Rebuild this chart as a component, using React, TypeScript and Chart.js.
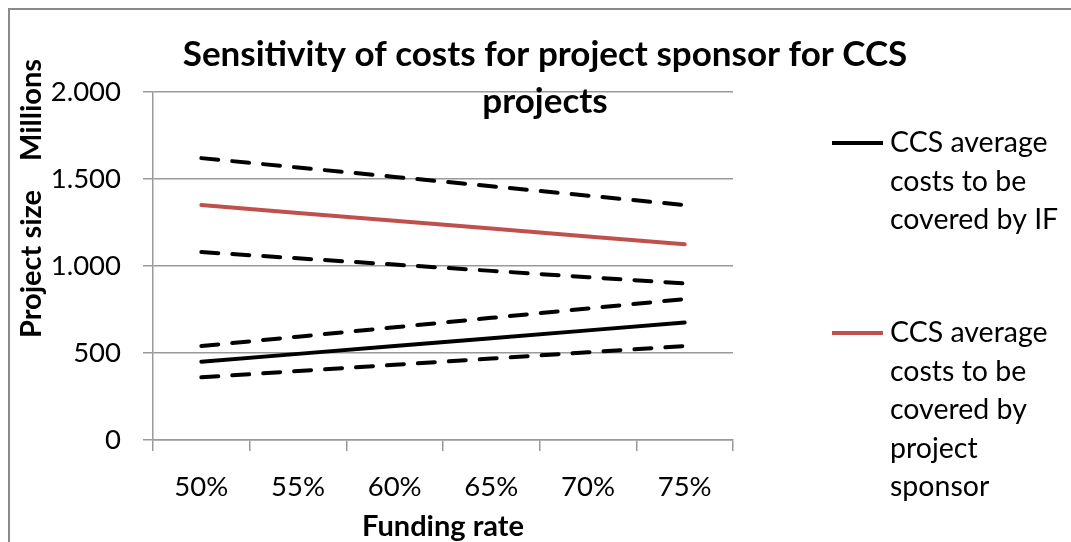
import React, { useEffect, useRef } from "react";
import { Chart, registerables } from "chart.js";

Chart.register(...registerables);

const categories = ["50%", "55%", "60%", "65%", "70%", "75%"];
const ifAvg = [450, 495, 540, 585, 630, 675];
const ifHigh = [540, 594, 648, 702, 756, 810];
const ifLow = [360, 396, 432, 468, 504, 540];
const sponsorAvg = [1350, 1305, 1260, 1215, 1170, 1125];
const sponsorHigh = [1620, 1566, 1512, 1458, 1404, 1350];
const sponsorLow = [1080, 1044, 1008, 972, 936, 900];
const yTickValues = [0, 500, 1000, 1500, 2000];
const yTickLabels = ["0", "500", "1.000", "1.500", "2.000"];
const titleLines = ["Sensitivity of costs for project sponsor for CCS", "projects"];
const legendIF = ["CCS average", "costs to be", "covered by IF"];
const legendSponsor = ["CCS average", "costs to be", "covered by", "project", "sponsor"];

const FONT = "Lato, 'Liberation Sans', sans-serif";
const RED = "#C0504D";
const GRID = "#9a9a9a";

const overlay = {
  id: "overlay",
  beforeDraw(chart: any) {
    const ctx = chart.ctx;
    ctx.save();
    ctx.fillStyle = "#ffffff";
    ctx.fillRect(0, 0, chart.width, chart.height);
    ctx.strokeStyle = "#8a8a8a";
    ctx.lineWidth = 2;
    ctx.beginPath();
    ctx.moveTo(1, chart.height);
    ctx.lineTo(1, 1);
    ctx.lineTo(chart.width, 1);
    ctx.stroke();
    ctx.restore();
  },
  afterDraw(chart: any) {
    const ctx = chart.ctx;
    const area = chart.chartArea;
    ctx.save();
    ctx.fillStyle = "#000";
    // title
    ctx.font = `bold 35px ${FONT}`;
    ctx.textAlign = "center";
    ctx.textBaseline = "middle";
    ctx.fillText(titleLines[0], 537, 47);
    ctx.fillText(titleLines[1], 537, 94);
    // x axis title
    ctx.font = `bold 29px ${FONT}`;
    ctx.fillText("Funding rate", (area.left + area.right) / 2, 519);
    // y axis title
    ctx.save();
    ctx.translate(24, 0);
    ctx.rotate(-Math.PI / 2);
    ctx.fillText("Millions", -102, 0);
    ctx.fillText("Project size", -256, 0);
    ctx.restore();
    // legend
    ctx.font = `28.5px ${FONT}`;
    ctx.textAlign = "left";
    const drawEntry = (lines: string[], color: string, y0: number) => {
      ctx.strokeStyle = color;
      ctx.lineWidth = 4;
      ctx.beginPath();
      ctx.moveTo(824, y0);
      ctx.lineTo(875, y0);
      ctx.stroke();
      lines.forEach((t, i) => ctx.fillText(t, 882, y0 + i * 38.5));
    };
    drawEntry(legendIF, "#000000", 135);
    drawEntry(legendSponsor, RED, 325);
    ctx.restore();
  },
};

export default function App() {
  const ref = useRef<HTMLCanvasElement>(null);
  useEffect(() => {
    const prevOverflow = document.body.style.overflow;
    document.body.style.overflow = "hidden";
    const dash = [17, 14];
    const chart = new Chart(ref.current!, {
      type: "line",
      data: {
        labels: categories,
        datasets: [
          { label: "CCS average costs to be covered by IF", data: ifAvg, borderColor: "#000", borderWidth: 4 },
          { label: "CCS average costs to be covered by project sponsor", data: sponsorAvg, borderColor: RED, borderWidth: 4 },
          { label: "IF high", data: ifHigh, borderColor: "#000", borderWidth: 4, borderDash: dash },
          { label: "IF low", data: ifLow, borderColor: "#000", borderWidth: 4, borderDash: dash },
          { label: "Sponsor high", data: sponsorHigh, borderColor: "#000", borderWidth: 4, borderDash: dash },
          { label: "Sponsor low", data: sponsorLow, borderColor: "#000", borderWidth: 4, borderDash: dash },
        ].map((d) => ({ ...d, pointRadius: 0, tension: 0, fill: false, borderCapStyle: "round" as const })),
      },
      options: {
        animation: false,
        responsive: false,
        maintainAspectRatio: false,
        layout: { padding: { left: 0, right: 338, top: 84, bottom: 0 } },
        plugins: { legend: { display: false }, tooltip: { enabled: false }, title: { display: false } },
        scales: {
          x: {
            offset: true,
            grid: { offset: true, drawOnChartArea: false, drawTicks: true, tickLength: 11, color: GRID, lineWidth: 1.5 },
            border: { display: true, color: GRID, width: 1.5 },
            ticks: { color: "#000", font: { family: FONT, size: 27.5 }, padding: 20, maxRotation: 0 },
            afterFit: (s: any) => { s.height = 102; },
          },
          y: {
            min: 0,
            max: 2000,
            afterBuildTicks: (s: any) => { s.ticks = yTickValues.map((v) => ({ value: v })); },
            grid: { color: GRID, lineWidth: 1.5, tickLength: 10 },
            border: { display: true, color: GRID, width: 1.5 },
            ticks: {
              color: "#000",
              font: { family: FONT, size: 27.5 },
              padding: 22,
              callback: (v: any) => yTickLabels[yTickValues.indexOf(Number(v))] ?? "",
            },
            afterFit: (s: any) => { s.width = 145; },
          },
        },
      },
      plugins: [overlay],
    });
    return () => {
      chart.destroy();
      document.body.style.overflow = prevOverflow;
    };
  }, []);
  return (
    <div style={{ position: "fixed", left: 8, top: 8, width: 1063, height: 534 }}>
      <canvas ref={ref} width={1063} height={534} style={{ width: 1063, height: 534, display: "block" }} />
    </div>
  );
}
